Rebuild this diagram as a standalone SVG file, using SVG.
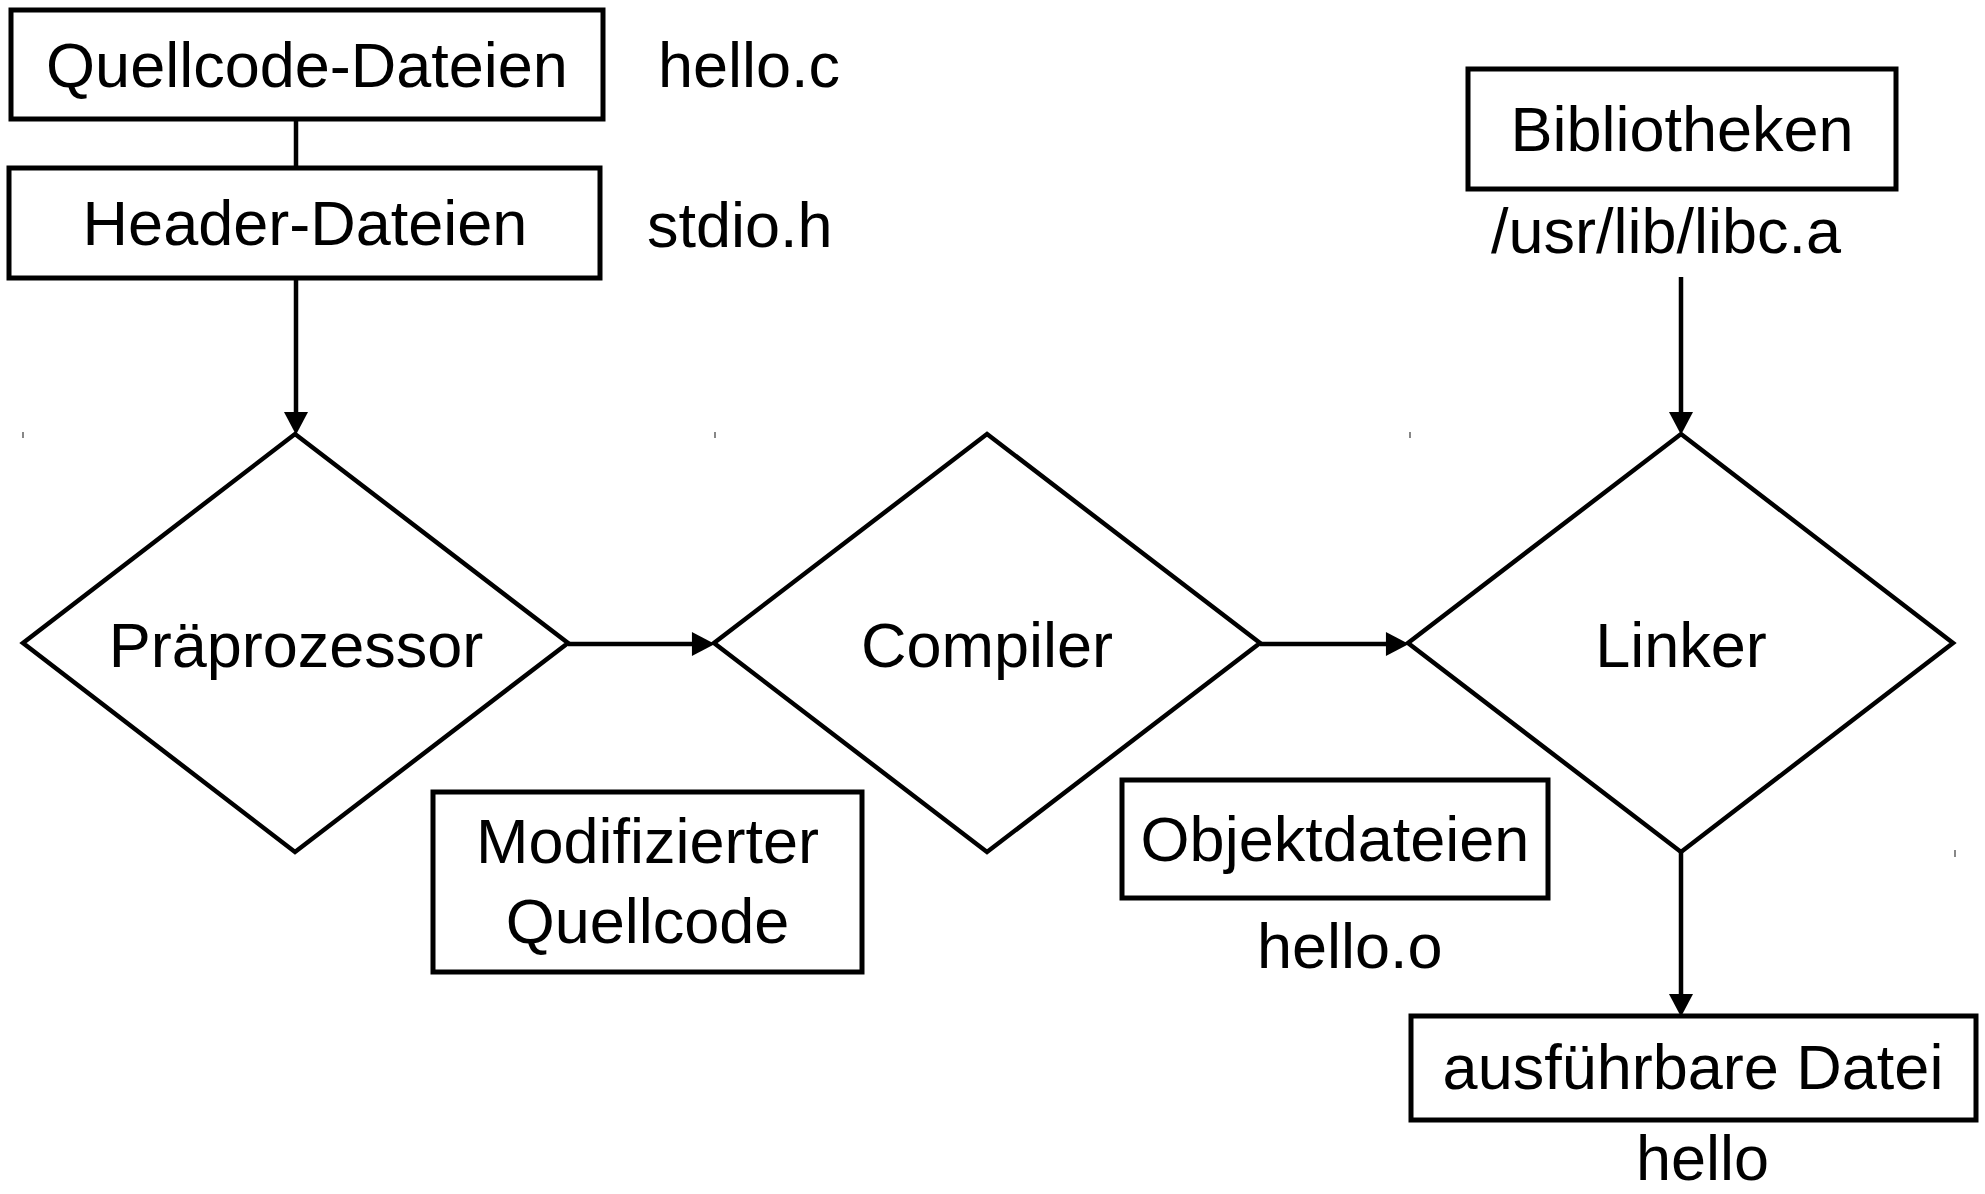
<svg xmlns="http://www.w3.org/2000/svg" width="1985" height="1194" viewBox="0 0 1985 1194">
<style>
.box{fill:#fff;stroke:#000;stroke-width:5}
.dia{fill:#fff;stroke:#000;stroke-width:4.5;stroke-linejoin:miter}
.t{font-family:"Liberation Sans",Arial,sans-serif;font-size:63px;fill:#000}
.c{text-anchor:middle}
.edge{stroke:#000;stroke-width:4.5;fill:none}
.tick{stroke:#555;stroke-width:1.4}
</style>
<defs>
<marker id="arr" markerUnits="userSpaceOnUse" markerWidth="24" markerHeight="24" viewBox="0 0 22 23" refX="2" refY="11.5" orient="auto">
<path d="M0,0 L22,11.5 L0,23 z" fill="#000"/>
</marker>
</defs>
<rect width="1985" height="1194" fill="#fff"/>
<g id="ticks">
<line class="tick" x1="23" y1="432" x2="23" y2="438"/>
<line class="tick" x1="715" y1="432" x2="715" y2="438"/>
<line class="tick" x1="1410" y1="432" x2="1410" y2="438"/>
<line class="tick" x1="1955" y1="850" x2="1955" y2="857"/>
</g>
<g id="connectors">
<line class="edge" x1="296" y1="119" x2="296" y2="168"/>
<line class="edge" x1="296" y1="278" x2="296" y2="414" marker-end="url(#arr)"/>
<line class="edge" x1="568" y1="644" x2="694" y2="644" marker-end="url(#arr)"/>
<line class="edge" x1="1260" y1="644" x2="1388" y2="644" marker-end="url(#arr)"/>
<line class="edge" x1="1681" y1="277" x2="1681" y2="414" marker-end="url(#arr)"/>
<line class="edge" x1="1681" y1="852" x2="1681" y2="996" marker-end="url(#arr)"/>
</g>
<g id="quellcode">
<rect class="box" x="11" y="10" width="592" height="109"/>
<text class="t c" x="307" y="87">Quellcode-Dateien</text>
</g>
<text id="hello-c" class="t" x="658" y="87">hello.c</text>
<g id="header">
<rect class="box" x="9" y="168" width="591" height="110"/>
<text class="t c" x="305" y="245">Header-Dateien</text>
</g>
<text id="stdio-h" class="t" x="647" y="247">stdio.h</text>
<g id="bibliotheken">
<rect class="box" x="1468" y="69" width="428" height="120"/>
<text class="t c" x="1682" y="151">Bibliotheken</text>
</g>
<text id="libc" class="t" x="1491" y="253">/usr/lib/libc.a</text>
<g id="praeprozessor">
<polygon class="dia" points="295,434 568,643 295,852 23,643"/>
<text class="t c" x="296" y="667">Präprozessor</text>
</g>
<g id="compiler">
<polygon class="dia" points="987,434 1260,643 987,852 714,643"/>
<text class="t c" x="987" y="667">Compiler</text>
</g>
<g id="linker">
<polygon class="dia" points="1681,434 1953,643 1681,852 1408,643"/>
<text class="t c" x="1681" y="667">Linker</text>
</g>
<g id="modifiziert">
<rect class="box" x="433" y="792" width="429" height="180"/>
<text class="t c" x="647.5" y="863">Modifizierter</text>
<text class="t c" x="647.5" y="943">Quellcode</text>
</g>
<g id="objektdateien">
<rect class="box" x="1122" y="780" width="426" height="118"/>
<text class="t c" x="1335" y="861">Objektdateien</text>
</g>
<text id="hello-o" class="t" x="1257" y="968">hello.o</text>
<g id="ausfuehrbar">
<rect class="box" x="1411" y="1016" width="565" height="104"/>
<text class="t c" x="1693" y="1089">ausführbare Datei</text>
</g>
<text id="hello" class="t" x="1636" y="1180">hello</text>
</svg>
